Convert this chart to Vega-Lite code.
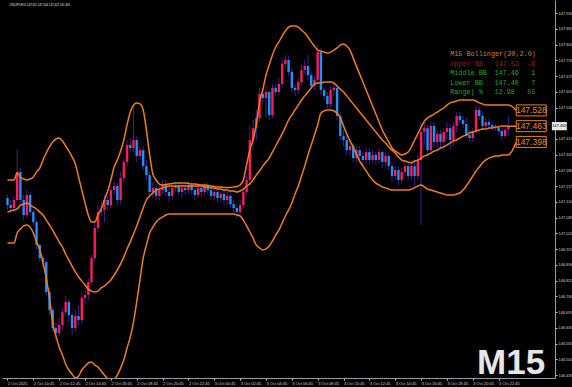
{
"$schema":"https://vega.github.io/schema/vega-lite/v6.json",
"width":553,"height":378,
"autosize":{"type":"none"},
"padding":{"left":2,"top":0,"right":17,"bottom":9},
"background":"#000000",
"config":{"view":{"stroke":null},"axis":{"grid":false,"title":null,"labelFont":"Liberation Sans","labelFontSize":4,"labelColor":"#d0d0d0","tickColor":"#c8c8c8","tickSize":2,"domainColor":"#9a9a9a","labelPadding":1,"labelOverlap":false,"labelFlush":false,"tickCount":100}},
"datasets":{
"bars":[
{"i":0,"o":147.166,"h":147.179,"l":147.117,"c":147.137,"u":147.241,"m":147.108,"b":146.980},
{"i":1,"o":147.137,"h":147.158,"l":147.108,"c":147.125,"u":147.241,"m":147.113,"b":146.980},
{"i":2,"o":147.125,"h":147.175,"l":147.117,"c":147.158,"u":147.241,"m":147.117,"b":146.980},
{"i":3,"o":147.158,"h":147.364,"l":147.150,"c":147.274,"u":147.270,"m":147.121,"b":147.022},
{"i":4,"o":147.274,"h":147.290,"l":147.137,"c":147.158,"u":147.253,"m":147.137,"b":147.038},
{"i":5,"o":147.158,"h":147.179,"l":147.075,"c":147.096,"u":147.245,"m":147.141,"b":147.051},
{"i":6,"o":147.096,"h":147.199,"l":147.084,"c":147.179,"u":147.241,"m":147.146,"b":147.055},
{"i":7,"o":147.179,"h":147.191,"l":147.096,"c":147.108,"u":147.245,"m":147.137,"b":147.046},
{"i":8,"o":147.108,"h":147.117,"l":147.051,"c":147.067,"u":147.253,"m":147.129,"b":147.022},
{"i":9,"o":147.067,"h":147.075,"l":146.952,"c":146.972,"u":147.274,"m":147.121,"b":146.985},
{"i":10,"o":146.972,"h":146.980,"l":146.902,"c":146.918,"u":147.290,"m":147.108,"b":146.952},
{"i":11,"o":146.918,"h":146.931,"l":146.877,"c":146.902,"u":147.323,"m":147.096,"b":146.898},
{"i":12,"o":146.902,"h":146.910,"l":146.762,"c":146.778,"u":147.352,"m":147.075,"b":146.836},
{"i":13,"o":146.778,"h":146.795,"l":146.683,"c":146.704,"u":147.377,"m":147.055,"b":146.753},
{"i":14,"o":146.704,"h":146.720,"l":146.613,"c":146.629,"u":147.398,"m":147.034,"b":146.650},
{"i":15,"o":146.629,"h":146.654,"l":146.580,"c":146.609,"u":147.410,"m":147.009,"b":146.596},
{"i":16,"o":146.609,"h":146.671,"l":146.596,"c":146.642,"u":147.414,"m":146.985,"b":146.551},
{"i":17,"o":146.642,"h":146.712,"l":146.621,"c":146.695,"u":147.402,"m":146.964,"b":146.518},
{"i":18,"o":146.695,"h":146.762,"l":146.679,"c":146.737,"u":147.381,"m":146.935,"b":146.481},
{"i":19,"o":146.737,"h":146.745,"l":146.654,"c":146.683,"u":147.360,"m":146.910,"b":146.456},
{"i":20,"o":146.683,"h":146.695,"l":146.600,"c":146.629,"u":147.336,"m":146.885,"b":146.439},
{"i":21,"o":146.629,"h":146.704,"l":146.613,"c":146.679,"u":147.307,"m":146.861,"b":146.423},
{"i":22,"o":146.679,"h":146.724,"l":146.642,"c":146.662,"u":147.253,"m":146.840,"b":146.431},
{"i":23,"o":146.662,"h":146.778,"l":146.646,"c":146.753,"u":147.199,"m":146.824,"b":146.456},
{"i":24,"o":146.753,"h":146.795,"l":146.724,"c":146.766,"u":147.146,"m":146.807,"b":146.472},
{"i":25,"o":146.766,"h":146.836,"l":146.745,"c":146.819,"u":147.096,"m":146.790,"b":146.485},
{"i":26,"o":146.819,"h":146.931,"l":146.807,"c":146.918,"u":147.067,"m":146.782,"b":146.489},
{"i":27,"o":146.918,"h":147.067,"l":146.902,"c":147.042,"u":147.067,"m":146.778,"b":146.477},
{"i":28,"o":147.042,"h":147.137,"l":147.026,"c":147.108,"u":147.096,"m":146.782,"b":146.468},
{"i":29,"o":147.108,"h":147.150,"l":147.092,"c":147.117,"u":147.121,"m":146.795,"b":146.452},
{"i":30,"o":147.117,"h":147.179,"l":147.067,"c":147.158,"u":147.158,"m":146.803,"b":146.435},
{"i":31,"o":147.158,"h":147.175,"l":147.117,"c":147.137,"u":147.195,"m":146.815,"b":146.419},
{"i":32,"o":147.137,"h":147.220,"l":147.125,"c":147.199,"u":147.241,"m":146.828,"b":146.406},
{"i":33,"o":147.199,"h":147.232,"l":147.179,"c":147.216,"u":147.294,"m":146.848,"b":146.415},
{"i":34,"o":147.216,"h":147.228,"l":147.137,"c":147.158,"u":147.323,"m":146.869,"b":146.435},
{"i":35,"o":147.158,"h":147.274,"l":147.141,"c":147.249,"u":147.360,"m":146.894,"b":146.464},
{"i":36,"o":147.249,"h":147.331,"l":147.232,"c":147.315,"u":147.406,"m":146.923,"b":146.497},
{"i":37,"o":147.315,"h":147.406,"l":147.298,"c":147.385,"u":147.468,"m":146.956,"b":146.547},
{"i":38,"o":147.385,"h":147.414,"l":147.356,"c":147.373,"u":147.521,"m":146.985,"b":146.592},
{"i":39,"o":147.373,"h":147.550,"l":147.356,"c":147.406,"u":147.550,"m":147.018,"b":146.654},
{"i":40,"o":147.406,"h":147.422,"l":147.315,"c":147.340,"u":147.559,"m":147.051,"b":146.737},
{"i":41,"o":147.340,"h":147.381,"l":147.323,"c":147.364,"u":147.555,"m":147.088,"b":146.828},
{"i":42,"o":147.364,"h":147.381,"l":147.282,"c":147.298,"u":147.530,"m":147.125,"b":146.918},
{"i":43,"o":147.298,"h":147.323,"l":147.241,"c":147.261,"u":147.447,"m":147.158,"b":146.972},
{"i":44,"o":147.261,"h":147.274,"l":147.175,"c":147.191,"u":147.344,"m":147.175,"b":147.022},
{"i":45,"o":147.191,"h":147.232,"l":147.166,"c":147.208,"u":147.265,"m":147.187,"b":147.046},
{"i":46,"o":147.208,"h":147.224,"l":147.158,"c":147.175,"u":147.241,"m":147.199,"b":147.067},
{"i":47,"o":147.175,"h":147.220,"l":147.158,"c":147.199,"u":147.224,"m":147.203,"b":147.080},
{"i":48,"o":147.199,"h":147.241,"l":147.183,"c":147.224,"u":147.220,"m":147.208,"b":147.088},
{"i":49,"o":147.224,"h":147.241,"l":147.175,"c":147.191,"u":147.222,"m":147.212,"b":147.096},
{"i":50,"o":147.191,"h":147.208,"l":147.150,"c":147.175,"u":147.224,"m":147.216,"b":147.100},
{"i":51,"o":147.175,"h":147.224,"l":147.158,"c":147.208,"u":147.226,"m":147.216,"b":147.100},
{"i":52,"o":147.208,"h":147.232,"l":147.191,"c":147.216,"u":147.228,"m":147.216,"b":147.100},
{"i":53,"o":147.216,"h":147.232,"l":147.175,"c":147.191,"u":147.228,"m":147.216,"b":147.100},
{"i":54,"o":147.191,"h":147.224,"l":147.166,"c":147.208,"u":147.228,"m":147.216,"b":147.100},
{"i":55,"o":147.208,"h":147.220,"l":147.179,"c":147.199,"u":147.228,"m":147.216,"b":147.100},
{"i":56,"o":147.199,"h":147.236,"l":147.183,"c":147.220,"u":147.226,"m":147.216,"b":147.100},
{"i":57,"o":147.220,"h":147.232,"l":147.183,"c":147.199,"u":147.224,"m":147.216,"b":147.100},
{"i":58,"o":147.199,"h":147.216,"l":147.158,"c":147.179,"u":147.224,"m":147.216,"b":147.100},
{"i":59,"o":147.179,"h":147.224,"l":147.166,"c":147.208,"u":147.222,"m":147.216,"b":147.100},
{"i":60,"o":147.208,"h":147.220,"l":147.170,"c":147.191,"u":147.220,"m":147.216,"b":147.100},
{"i":61,"o":147.191,"h":147.228,"l":147.175,"c":147.216,"u":147.220,"m":147.212,"b":147.100},
{"i":62,"o":147.216,"h":147.228,"l":147.183,"c":147.199,"u":147.218,"m":147.212,"b":147.100},
{"i":63,"o":147.199,"h":147.212,"l":147.158,"c":147.175,"u":147.216,"m":147.208,"b":147.100},
{"i":64,"o":147.175,"h":147.208,"l":147.158,"c":147.191,"u":147.214,"m":147.208,"b":147.100},
{"i":65,"o":147.191,"h":147.199,"l":147.146,"c":147.166,"u":147.212,"m":147.203,"b":147.100},
{"i":66,"o":147.166,"h":147.199,"l":147.150,"c":147.183,"u":147.212,"m":147.203,"b":147.100},
{"i":67,"o":147.183,"h":147.199,"l":147.141,"c":147.158,"u":147.210,"m":147.199,"b":147.100},
{"i":68,"o":147.158,"h":147.191,"l":147.137,"c":147.175,"u":147.210,"m":147.199,"b":147.100},
{"i":69,"o":147.175,"h":147.183,"l":147.125,"c":147.141,"u":147.210,"m":147.195,"b":147.100},
{"i":70,"o":147.141,"h":147.158,"l":147.100,"c":147.125,"u":147.212,"m":147.195,"b":147.100},
{"i":71,"o":147.125,"h":147.141,"l":147.084,"c":147.108,"u":147.214,"m":147.191,"b":147.096},
{"i":72,"o":147.108,"h":147.158,"l":147.092,"c":147.137,"u":147.220,"m":147.195,"b":147.092},
{"i":73,"o":147.137,"h":147.208,"l":147.125,"c":147.191,"u":147.241,"m":147.203,"b":147.075},
{"i":74,"o":147.191,"h":147.261,"l":147.179,"c":147.241,"u":147.303,"m":147.216,"b":147.051},
{"i":75,"o":147.241,"h":147.468,"l":147.224,"c":147.406,"u":147.364,"m":147.224,"b":147.026},
{"i":76,"o":147.406,"h":147.488,"l":147.364,"c":147.455,"u":147.406,"m":147.241,"b":147.001},
{"i":77,"o":147.455,"h":147.530,"l":147.406,"c":147.497,"u":147.468,"m":147.261,"b":146.972},
{"i":78,"o":147.497,"h":147.621,"l":147.480,"c":147.596,"u":147.563,"m":147.278,"b":146.960},
{"i":79,"o":147.596,"h":147.621,"l":147.554,"c":147.579,"u":147.612,"m":147.298,"b":146.952},
{"i":80,"o":147.579,"h":147.629,"l":147.497,"c":147.604,"u":147.674,"m":147.315,"b":146.956},
{"i":81,"o":147.604,"h":147.612,"l":147.488,"c":147.509,"u":147.716,"m":147.331,"b":146.968},
{"i":82,"o":147.509,"h":147.637,"l":147.497,"c":147.621,"u":147.757,"m":147.356,"b":146.989},
{"i":83,"o":147.621,"h":147.637,"l":147.588,"c":147.604,"u":147.790,"m":147.381,"b":147.013},
{"i":84,"o":147.604,"h":147.662,"l":147.588,"c":147.637,"u":147.811,"m":147.406,"b":147.034},
{"i":85,"o":147.637,"h":147.744,"l":147.621,"c":147.720,"u":147.835,"m":147.431,"b":147.063},
{"i":86,"o":147.720,"h":147.757,"l":147.703,"c":147.736,"u":147.856,"m":147.459,"b":147.092},
{"i":87,"o":147.736,"h":147.753,"l":147.670,"c":147.687,"u":147.872,"m":147.488,"b":147.117},
{"i":88,"o":147.687,"h":147.703,"l":147.604,"c":147.621,"u":147.877,"m":147.509,"b":147.146},
{"i":89,"o":147.621,"h":147.637,"l":147.588,"c":147.612,"u":147.877,"m":147.530,"b":147.183},
{"i":90,"o":147.612,"h":147.662,"l":147.596,"c":147.645,"u":147.872,"m":147.550,"b":147.216},
{"i":91,"o":147.645,"h":147.716,"l":147.629,"c":147.695,"u":147.860,"m":147.571,"b":147.257},
{"i":92,"o":147.695,"h":147.736,"l":147.678,"c":147.711,"u":147.848,"m":147.588,"b":147.298},
{"i":93,"o":147.711,"h":147.757,"l":147.654,"c":147.674,"u":147.831,"m":147.604,"b":147.344},
{"i":94,"o":147.674,"h":147.687,"l":147.612,"c":147.629,"u":147.811,"m":147.621,"b":147.385},
{"i":95,"o":147.629,"h":147.670,"l":147.612,"c":147.654,"u":147.794,"m":147.637,"b":147.426},
{"i":96,"o":147.654,"h":147.798,"l":147.637,"c":147.769,"u":147.777,"m":147.641,"b":147.468},
{"i":97,"o":147.769,"h":147.786,"l":147.592,"c":147.612,"u":147.773,"m":147.641,"b":147.517},
{"i":98,"o":147.612,"h":147.621,"l":147.571,"c":147.588,"u":147.769,"m":147.645,"b":147.526},
{"i":99,"o":147.588,"h":147.604,"l":147.538,"c":147.554,"u":147.765,"m":147.645,"b":147.530},
{"i":100,"o":147.554,"h":147.629,"l":147.538,"c":147.612,"u":147.769,"m":147.645,"b":147.530},
{"i":101,"o":147.612,"h":147.637,"l":147.588,"c":147.621,"u":147.777,"m":147.641,"b":147.526},
{"i":102,"o":147.621,"h":147.629,"l":147.488,"c":147.505,"u":147.786,"m":147.629,"b":147.517},
{"i":103,"o":147.505,"h":147.521,"l":147.406,"c":147.422,"u":147.798,"m":147.616,"b":147.497},
{"i":104,"o":147.422,"h":147.447,"l":147.381,"c":147.406,"u":147.802,"m":147.604,"b":147.464},
{"i":105,"o":147.406,"h":147.422,"l":147.344,"c":147.364,"u":147.794,"m":147.588,"b":147.431},
{"i":106,"o":147.364,"h":147.398,"l":147.340,"c":147.381,"u":147.777,"m":147.571,"b":147.402},
{"i":107,"o":147.381,"h":147.393,"l":147.315,"c":147.331,"u":147.744,"m":147.554,"b":147.377},
{"i":108,"o":147.331,"h":147.381,"l":147.315,"c":147.364,"u":147.711,"m":147.538,"b":147.348},
{"i":109,"o":147.364,"h":147.381,"l":147.323,"c":147.340,"u":147.678,"m":147.521,"b":147.319},
{"i":110,"o":147.340,"h":147.356,"l":147.307,"c":147.323,"u":147.645,"m":147.505,"b":147.298},
{"i":111,"o":147.323,"h":147.373,"l":147.307,"c":147.356,"u":147.612,"m":147.488,"b":147.278},
{"i":112,"o":147.356,"h":147.373,"l":147.303,"c":147.323,"u":147.579,"m":147.472,"b":147.257},
{"i":113,"o":147.323,"h":147.364,"l":147.307,"c":147.344,"u":147.546,"m":147.455,"b":147.241},
{"i":114,"o":147.344,"h":147.356,"l":147.303,"c":147.323,"u":147.513,"m":147.439,"b":147.228},
{"i":115,"o":147.323,"h":147.373,"l":147.311,"c":147.356,"u":147.480,"m":147.422,"b":147.220},
{"i":116,"o":147.356,"h":147.364,"l":147.290,"c":147.315,"u":147.447,"m":147.406,"b":147.212},
{"i":117,"o":147.315,"h":147.356,"l":147.298,"c":147.340,"u":147.422,"m":147.393,"b":147.208},
{"i":118,"o":147.340,"h":147.356,"l":147.282,"c":147.298,"u":147.398,"m":147.377,"b":147.203},
{"i":119,"o":147.298,"h":147.315,"l":147.232,"c":147.257,"u":147.373,"m":147.364,"b":147.199},
{"i":120,"o":147.257,"h":147.298,"l":147.241,"c":147.282,"u":147.360,"m":147.352,"b":147.199},
{"i":121,"o":147.282,"h":147.298,"l":147.220,"c":147.241,"u":147.352,"m":147.336,"b":147.199},
{"i":122,"o":147.241,"h":147.290,"l":147.224,"c":147.274,"u":147.344,"m":147.323,"b":147.199},
{"i":123,"o":147.274,"h":147.315,"l":147.257,"c":147.298,"u":147.348,"m":147.319,"b":147.199},
{"i":124,"o":147.298,"h":147.315,"l":147.241,"c":147.257,"u":147.356,"m":147.315,"b":147.199},
{"i":125,"o":147.257,"h":147.323,"l":147.241,"c":147.298,"u":147.377,"m":147.311,"b":147.203},
{"i":126,"o":147.298,"h":147.315,"l":147.216,"c":147.257,"u":147.406,"m":147.319,"b":147.208},
{"i":127,"o":147.257,"h":147.344,"l":147.241,"c":147.323,"u":147.431,"m":147.323,"b":147.216},
{"i":128,"o":147.323,"h":147.480,"l":147.055,"c":147.439,"u":147.459,"m":147.331,"b":147.220},
{"i":129,"o":147.439,"h":147.480,"l":147.385,"c":147.455,"u":147.484,"m":147.340,"b":147.212},
{"i":130,"o":147.455,"h":147.468,"l":147.344,"c":147.364,"u":147.497,"m":147.344,"b":147.203},
{"i":131,"o":147.364,"h":147.480,"l":147.356,"c":147.464,"u":147.505,"m":147.352,"b":147.199},
{"i":132,"o":147.464,"h":147.480,"l":147.373,"c":147.398,"u":147.513,"m":147.360,"b":147.195},
{"i":133,"o":147.398,"h":147.447,"l":147.364,"c":147.431,"u":147.521,"m":147.364,"b":147.191},
{"i":134,"o":147.431,"h":147.447,"l":147.373,"c":147.398,"u":147.530,"m":147.373,"b":147.187},
{"i":135,"o":147.398,"h":147.455,"l":147.381,"c":147.439,"u":147.538,"m":147.377,"b":147.183},
{"i":136,"o":147.439,"h":147.480,"l":147.406,"c":147.455,"u":147.550,"m":147.385,"b":147.179},
{"i":137,"o":147.455,"h":147.472,"l":147.364,"c":147.406,"u":147.559,"m":147.393,"b":147.179},
{"i":138,"o":147.406,"h":147.480,"l":147.381,"c":147.464,"u":147.563,"m":147.402,"b":147.179},
{"i":139,"o":147.464,"h":147.521,"l":147.439,"c":147.505,"u":147.567,"m":147.406,"b":147.183},
{"i":140,"o":147.505,"h":147.521,"l":147.472,"c":147.488,"u":147.571,"m":147.414,"b":147.187},
{"i":141,"o":147.488,"h":147.505,"l":147.455,"c":147.472,"u":147.571,"m":147.422,"b":147.199},
{"i":142,"o":147.472,"h":147.497,"l":147.414,"c":147.426,"u":147.571,"m":147.426,"b":147.216},
{"i":143,"o":147.426,"h":147.447,"l":147.398,"c":147.414,"u":147.571,"m":147.435,"b":147.236},
{"i":144,"o":147.414,"h":147.455,"l":147.398,"c":147.439,"u":147.571,"m":147.439,"b":147.257},
{"i":145,"o":147.439,"h":147.550,"l":147.431,"c":147.530,"u":147.567,"m":147.443,"b":147.278},
{"i":146,"o":147.530,"h":147.546,"l":147.488,"c":147.505,"u":147.559,"m":147.447,"b":147.294},
{"i":147,"o":147.505,"h":147.521,"l":147.447,"c":147.464,"u":147.555,"m":147.451,"b":147.311},
{"i":148,"o":147.464,"h":147.497,"l":147.455,"c":147.480,"u":147.550,"m":147.451,"b":147.323},
{"i":149,"o":147.480,"h":147.493,"l":147.455,"c":147.468,"u":147.550,"m":147.455,"b":147.331},
{"i":150,"o":147.468,"h":147.480,"l":147.447,"c":147.459,"u":147.550,"m":147.455,"b":147.336},
{"i":151,"o":147.459,"h":147.472,"l":147.443,"c":147.455,"u":147.550,"m":147.460,"b":147.340},
{"i":152,"o":147.455,"h":147.468,"l":147.431,"c":147.443,"u":147.550,"m":147.460,"b":147.340},
{"i":153,"o":147.443,"h":147.455,"l":147.406,"c":147.422,"u":147.550,"m":147.464,"b":147.344},
{"i":154,"o":147.422,"h":147.459,"l":147.414,"c":147.447,"u":147.550,"m":147.464,"b":147.344},
{"i":155,"o":147.451,"h":147.504,"l":147.422,"c":147.463,"u":147.550,"m":147.463,"b":147.344},
{"i":157.5,"u":147.528,"m":147.463,"b":147.398}
],
"boxes":[{"p":147.528,"t":"147.528"},{"p":147.463,"t":"147.463"},{"p":147.398,"t":"147.398"}],
"bid":[{"p":147.463,"t":"147.463"}],
"header":[{"t":"USDJPY,M15  147.451 147.504 147.422 147.463"}],
"mark":[{"t":"M15"}],
"info":[
{"line":0,"name":"M15 Bollinger(20,2.0)","val":"","chg":""},
{"line":1,"name":"Upper BB","val":"147.53","chg":"-6"},
{"line":2,"name":"Middle BB","val":"147.46","chg":"1"},
{"line":3,"name":"Lower BB","val":"147.40","chg":"7"},
{"line":4,"name":"Range| %","val":"12.98","chg":"55"}]
},
"layer":[
{"layer":[
{"data":{"name":"bars"},"mark":{"type":"rule","color":"#3a2590","strokeWidth":1},
 "encoding":{"x":{"field":"i","type":"quantitative","scale":{"domain":[-0.15,167.9],"nice":false,"zero":false},
   "axis":{"orient":"bottom","values":[0,8,16,24,32,40,48,56,64,72,80,88,96,104,112,120,128,136,144,152],"tickCount":100,"labelAlign":"left","labelFlush":false,"labelOverlap":false,
   "labelExpr":"datum.value == 0 ? '2 Oct 2025' : (datum.value < 64 ? '2 Oct ' : '3 Oct ') + (floor(8.75 + datum.value / 4) % 24 < 10 ? '0' : '') + floor(8.75 + datum.value / 4) % 24 + ':45'"}},
  "y":{"field":"l","type":"quantitative","scale":{"domain":[146.423,147.984],"nice":false,"zero":false},
   "axis":{"orient":"right","values":[146.435,146.5,146.565,146.63,146.695,146.76,146.825,146.89,146.955,147.02,147.085,147.15,147.215,147.28,147.345,147.41,147.54,147.605,147.67,147.735,147.8,147.865,147.93],"tickCount":100,"format":".3f","labelOverlap":false,"labelFlush":false}},
  "y2":{"field":"h"}}},
{"data":{"name":"bars"},"mark":{"type":"bar","width":2.4},
 "encoding":{"x":{"field":"i","type":"quantitative"},"y":{"field":"o","type":"quantitative"},"y2":{"field":"c"},
  "color":{"condition":{"test":"datum.c > datum.o","value":"#ff1a5a"},"value":"#1e90ff"}}},
{"data":{"name":"bars"},"mark":{"type":"line","color":"#ee7e1e","strokeWidth":1.5,"clip":true,"interpolate":"monotone"},
 "encoding":{"x":{"field":"i","type":"quantitative"},"y":{"field":"u","type":"quantitative"}}},
{"data":{"name":"bars"},"mark":{"type":"line","color":"#ee7e1e","strokeWidth":1.5,"clip":true,"interpolate":"monotone"},
 "encoding":{"x":{"field":"i","type":"quantitative"},"y":{"field":"m","type":"quantitative"}}},
{"data":{"name":"bars"},"mark":{"type":"line","color":"#ee7e1e","strokeWidth":1.5,"clip":true,"interpolate":"monotone"},
 "encoding":{"x":{"field":"i","type":"quantitative"},"y":{"field":"b","type":"quantitative"}}},
{"mark":{"type":"rule","color":"#8c8c8c","strokeWidth":1},"encoding":{"y":{"datum":147.463}}},
{"mark":{"type":"rule","color":"#9a9a9a","strokeWidth":1},"encoding":{"x":{"datum":-0.15}}},
{"data":{"name":"boxes"},"mark":{"type":"point","shape":"M-1,-0.367H1V0.367H-1Z","size":900,"filled":true,"fill":"#000000","stroke":"#e8831f","strokeWidth":1,"opacity":1},
 "encoding":{"x":{"datum":162.1},"y":{"field":"p","type":"quantitative"}}},
{"data":{"name":"boxes"},"mark":{"type":"text","font":"Liberation Sans","fontSize":8.5,"color":"#f08a24","align":"center","baseline":"middle"},
 "encoding":{"x":{"datum":162.1},"y":{"field":"p","type":"quantitative"},"text":{"field":"t"}}},
{"data":{"name":"bid"},"mark":{"type":"point","shape":"M-1,-0.55H1V0.55H-1Z","size":225,"filled":true,"fill":"#e8e8e8","opacity":1},
 "encoding":{"x":{"datum":170.8},"y":{"field":"p","type":"quantitative"}}},
{"data":{"name":"bid"},"mark":{"type":"text","font":"Liberation Sans","fontSize":4,"color":"#000000","align":"center","baseline":"middle"},
 "encoding":{"x":{"datum":170.8},"y":{"field":"p","type":"quantitative"},"text":{"field":"t"}}},
{"data":{"name":"header"},"mark":{"type":"text","font":"Liberation Sans","fontSize":2.8,"color":"#e0e0e0","align":"left","baseline":"middle"},
 "encoding":{"x":{"datum":0.6},"y":{"datum":147.967},"text":{"field":"t"}}},
{"data":{"name":"mark"},"mark":{"type":"text","font":"Liberation Sans","fontSize":35,"fontWeight":"bold","color":"#e6e6e6","align":"right","baseline":"alphabetic"},
 "encoding":{"x":{"datum":166.4},"y":{"datum":146.439},"text":{"field":"t"}}}
]},
{"data":{"name":"info"},
 "encoding":{"y":{"field":"line","type":"quantitative","scale":{"domain":[0,4],"range":[54,92]},"axis":null},
   "color":{"field":"line","type":"ordinal","scale":{"domain":[0,1,2,3,4],"range":["#c8861e","#b80c0c","#1fa81f","#1fa81f","#1fa81f"]},"legend":null}},
 "layer":[
 {"mark":{"type":"text","font":"Liberation Mono","fontSize":6.8,"align":"left","baseline":"middle"},"encoding":{"x":{"datum":137.0},"text":{"field":"name"}}},
 {"mark":{"type":"text","font":"Liberation Mono","fontSize":6.8,"align":"left","baseline":"middle"},"encoding":{"x":{"datum":150.7},"text":{"field":"val"}}},
 {"mark":{"type":"text","font":"Liberation Mono","fontSize":6.8,"align":"right","baseline":"middle"},"encoding":{"x":{"datum":163.4},"text":{"field":"chg"}}}
 ]}
],
"resolve":{"scale":{"y":"independent"}}
}
